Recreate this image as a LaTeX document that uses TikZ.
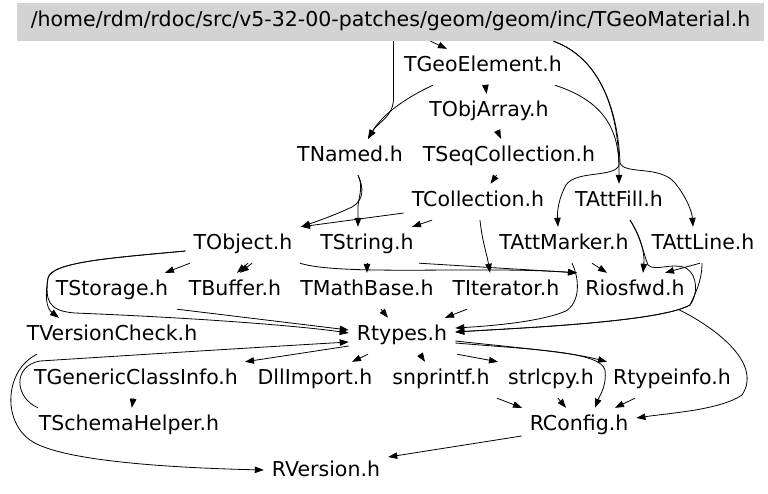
\documentclass[tikz,border=0pt]{standalone}
\usepackage{fontspec}
\setmainfont{DejaVu Sans}
\definecolor{grisk}{RGB}{211,211,211}
\usetikzlibrary{arrows.meta}

\begin{document}
\begin{tikzpicture}[x=1pt,y=-1pt,
    hfile/.style={inner xsep=8pt,inner ysep=0pt,minimum height=36pt,
                  text height=14pt,text depth=6pt,font=\fontsize{20.5}{22}\selectfont},
    hdrbox/.style={hfile,fill=grisk,minimum width=747pt,minimum height=38pt},
    dep/.style={-{Triangle[length=9pt,width=6.5pt]},line width=0.8pt}]
    \useasboundingbox (0,0) rectangle (768,493);
    \node[hdrbox] (mat) at (390.5,22) {/home/rdm/rdoc/src/v5-32-00-patches/geom/geom/inc/TGeoMaterial.h};
    \node[hfile] (geoel) at (483,67) {TGeoElement.h};
    \node[hfile] (objarr) at (489,112) {TObjArray.h};
    \node[hfile] (named) at (350,157) {TNamed.h};
    \node[hfile] (seqcoll) at (509,157) {TSeqCollection.h};
    \node[hfile] (coll) at (478,202) {TCollection.h};
    \node[hfile] (attfill) at (619,202) {TAttFill.h};
    \node[hfile] (object) at (243,245) {TObject.h};
    \node[hfile] (string) at (367,245) {TString.h};
    \node[hfile] (attmarker) at (564,245) {TAttMarker.h};
    \node[hfile] (attline) at (703,245) {TAttLine.h};
    \node[hfile] (storage) at (112,291) {TStorage.h};
    \node[hfile] (buffer) at (235,291) {TBuffer.h};
    \node[hfile] (mathbase) at (367,291) {TMathBase.h};
    \node[hfile] (iterator) at (506,291) {TIterator.h};
    \node[hfile] (riosfwd) at (635,291) {Riosfwd.h};
    \node[hfile] (versioncheck) at (112,336) {TVersionCheck.h};
    \node[hfile] (rtypes) at (402,336) {Rtypes.h};
    \node[hfile] (genclass) at (136,380) {TGenericClassInfo.h};
    \node[hfile] (dllimport) at (315,380) {DllImport.h};
    \node[hfile] (snprintf) at (441,380) {snprintf.h};
    \node[hfile] (strlcpy) at (551,380) {strlcpy.h};
    \node[hfile] (rtypeinfo) at (672,380) {Rtypeinfo.h};
    \node[hfile] (schema) at (129,426) {TSchemaHelper.h};
    \node[hfile] (rconfig) at (579,426) {RConfig.h};
    \node[hfile] (rversion) at (326,472) {RVersion.h};

    \draw[dep] ([xshift=40pt]mat.south) -- ([xshift=-36pt]geoel.north);
    \draw[dep] ([xshift=3pt]mat.south) -- (393.5,100) .. controls (392,118) and (378,122) .. ([xshift=18pt]named.north);
    \draw[dep] ([xshift=-50pt]geoel.south) .. controls (405,98) and (382,115) .. ([xshift=18pt]named.north);
    \draw[dep] ([xshift=163pt]mat.south) .. controls (600,58) and (618,110) .. (619,165) -- (attfill.north);
    \draw[dep] ([xshift=72pt]geoel.south) .. controls (600,100) and (618,125) .. (619,165)
        .. controls (615,178) and (576,170) .. (566,185) .. controls (559,197) and (557,212) .. ([xshift=-6pt]attmarker.north);
    \draw[dep] ([xshift=163pt]mat.south) .. controls (600,58) and (618,110) .. (620,163)
        .. controls (625,175) and (660,165) .. (675,183) .. controls (687,198) and (692,212) .. ([xshift=-10pt]attline.north);
    \draw[dep] (geoel) -- (objarr);
    \draw[dep] (objarr) -- (seqcoll);
    \draw[dep] (seqcoll) -- (coll);

    \draw[dep] ([xshift=8pt]named.south) .. controls (364,188) and (364,200) .. (352,207)
        .. controls (335,215) and (318,221) .. ([xshift=58pt]object.north);
    \draw[dep] ([xshift=8pt]named.south) .. controls (364,188) and (358,198) .. (358,207) -- ([xshift=-9pt]string.north);
    \draw[dep] ([yshift=-11pt]coll.west) -- ([xshift=58pt]object.north);
    \draw[dep] ([xshift=-46pt]coll.south) -- ([xshift=45pt]string.north);
    \draw[dep] ([xshift=2pt]coll.south) .. controls (482,240) and (487,255) .. ([xshift=-16pt]iterator.north);

    \draw[dep] ([xshift=-53pt]object.south) -- ([xshift=53pt]storage.north);
    \draw[dep] ([xshift=5pt]object.south) -- ([xshift=2pt]buffer.north);
    \draw[dep] ([xshift=9pt]object.south) -- ([xshift=5pt]buffer.north);
    \draw[dep] ([xshift=57pt]object.south) .. controls (340,276) and (480,266) .. ([xshift=-58pt]riosfwd.north);
    \draw[dep] ([xshift=52pt]string.south) -- ([xshift=-58pt]riosfwd.north);
    \draw[dep] (string) -- (mathbase);
    \draw[dep] ([xshift=28pt]attmarker.south) -- ([xshift=-28pt]riosfwd.north);
    \draw[dep] ([xshift=11pt]attfill.south) .. controls (640,235) and (645,252) .. ([xshift=8pt]riosfwd.north);
    \draw[dep] ([xshift=-3pt]attline.south) -- ([xshift=30pt]riosfwd.north);
    \draw[dep] ([xshift=11pt]attfill.south) .. controls (640,235) and (644,255) .. (648,265)
        .. controls (655,272) and (672,262) .. (686,268) .. controls (698,275) and (698,295) .. (690,305)
        .. controls (660,322) and (520,328) .. ([yshift=4pt]rtypes.east);
    \draw[dep] ([xshift=-1pt]attline.south) .. controls (702,282) and (694,296) .. (690,305)
        .. controls (660,322) and (520,328) .. ([yshift=4pt]rtypes.east);
    \draw[dep] ([xshift=8pt]attmarker.south) .. controls (580,280) and (580,302) .. (566,311)
        .. controls (540,322) and (490,326) .. ([yshift=8pt]rtypes.east);
    \draw[dep] ([xshift=-39pt]iterator.south) -- ([xshift=43pt]rtypes.north);
    \draw[dep] ([xshift=14pt]mathbase.south) -- ([xshift=-14pt]rtypes.north);
    \draw[dep] ([xshift=65pt]storage.south) -- ([yshift=6pt]rtypes.west);

    \draw[dep] ([yshift=-6pt]object.west) .. controls (110,258) and (52,262) .. (48,278)
        .. controls (45,295) and (46,308) .. ([xshift=-53pt]versioncheck.north);
    \draw[dep] ([yshift=-6pt]object.west) .. controls (110,258) and (52,262) .. (48,278)
        .. controls (45,300) and (48,311) .. (75,313) .. controls (200,318) and (300,326) .. ([yshift=3pt]rtypes.west);
    \draw[dep] ([xshift=-75pt]versioncheck.south) .. controls (5,370) and (2,420) .. (30,440)
        .. controls (60,462) and (180,468) .. ([yshift=2pt]rversion.west);
    \draw[dep] ([xshift=-91pt]schema.north) .. controls (15,398) and (12,366) .. (40,361)
        .. controls (150,354) and (280,346) .. ([yshift=-6pt]rtypes.west);

    \draw[dep] ([yshift=-10pt]rtypes.west) -- ([xshift=109pt]genclass.north);
    \draw[dep] ([xshift=-34pt]rtypes.south) -- ([xshift=37pt]dllimport.north);
    \draw[dep] (genclass) -- (schema);
    \draw[dep] ([xshift=18pt]rtypes.south) -- ([xshift=-16pt]snprintf.north);
    \draw[dep] ([xshift=55pt]rtypes.south) -- ([xshift=-53pt]strlcpy.north);
    \draw[dep] ([yshift=-5pt]rtypes.east) .. controls (520,348) and (570,352) .. ([xshift=-65pt]rtypeinfo.north);
    \draw[dep] ([yshift=-7pt]rtypes.east) .. controls (540,350) and (600,352) .. (605,370)
        .. controls (607,385) and (600,395) .. ([xshift=16pt]rconfig.north);
    \draw[dep] ([xshift=56pt]snprintf.south) -- ([xshift=-57pt]rconfig.north);
    \draw[dep] ([xshift=7pt]strlcpy.south) -- ([xshift=-13pt]rconfig.north);
    \draw[dep] ([xshift=-37pt]rtypeinfo.south) -- ([xshift=36pt]rconfig.north);
    \draw[dep] ([xshift=43pt]riosfwd.south) .. controls (720,330) and (762,365) .. (742,395)
        .. controls (720,410) and (670,413) .. ([yshift=8pt]rconfig.east);
    \draw[dep] ([yshift=-10pt]rconfig.west) -- ([yshift=15pt]rversion.east);
\end{tikzpicture}
\end{document}
